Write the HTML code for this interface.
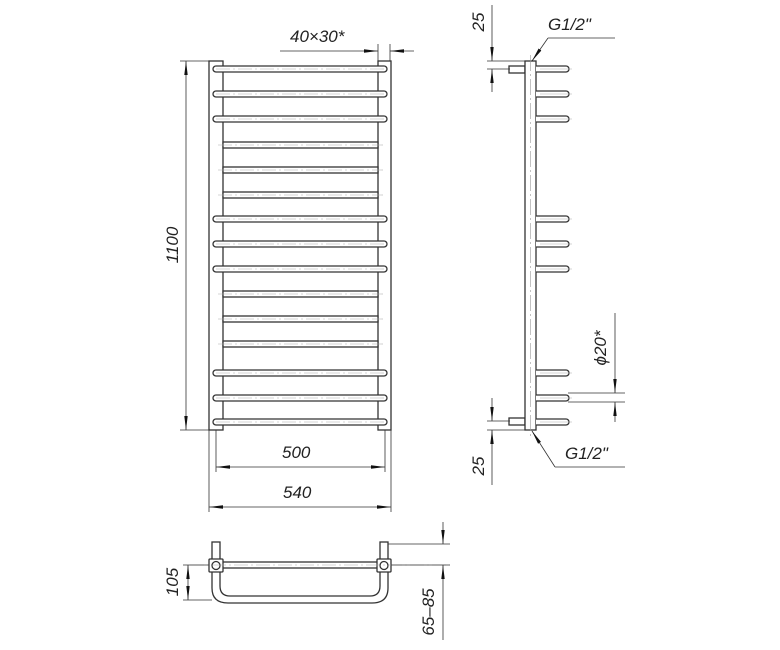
<!DOCTYPE html>
<html><head><meta charset="utf-8"><style>
body{margin:0;background:#fff}
svg{display:block}
text{font-family:"Liberation Sans",sans-serif;font-style:italic;font-size:17px;fill:#222}
</style></head><body>
<svg width="780" height="650" viewBox="0 0 780 650" xmlns="http://www.w3.org/2000/svg">
<defs>
<marker id="a" markerWidth="14" markerHeight="6" refX="14" refY="3" orient="auto" markerUnits="userSpaceOnUse"><path d="M0,1.3 L14,3 L0,4.7z" fill="#111"/></marker>
<g id="lr"><rect x="213" y="-3" width="174" height="6" rx="3" fill="#fff" stroke="#333" stroke-width="1.3"/><line x1="216" y1="0" x2="384" y2="0" stroke="#aaa" stroke-width="0.6" stroke-dasharray="14 3 2 3"/></g>
<g id="sr"><rect x="223" y="-3" width="155" height="6" fill="#fff" stroke="#333" stroke-width="1.3"/><line x1="218" y1="0" x2="383" y2="0" stroke="#aaa" stroke-width="0.6" stroke-dasharray="14 3 2 3"/></g>
<g id="st"><path d="M536,-3 H566 A3,3 0 0 1 566,3 H536" fill="#fff" stroke="#333" stroke-width="1.3"/><line x1="540" y1="0" x2="572" y2="0" stroke="#aaa" stroke-width="0.6"/></g>
</defs>
<g stroke="#333" stroke-width="1.3" fill="#fff">
<!-- front posts -->
<rect x="209" y="61" width="14" height="369"/>
<rect x="378" y="61" width="13" height="369"/>
</g>
<g>
<use href="#lr" y="69"/><use href="#lr" y="94"/><use href="#lr" y="119"/>
<use href="#sr" y="145"/><use href="#sr" y="170"/><use href="#sr" y="195"/>
<use href="#lr" y="219"/><use href="#lr" y="244"/><use href="#lr" y="269"/>
<use href="#sr" y="294"/><use href="#sr" y="319"/><use href="#sr" y="344"/>
<use href="#lr" y="373"/><use href="#lr" y="398"/><use href="#lr" y="422"/>
</g>
<g stroke="#333" stroke-width="0.8" fill="none">
<!-- 1100 -->
<line x1="180" y1="61" x2="209" y2="61"/><line x1="180" y1="430" x2="209" y2="430"/>
<line x1="186" y1="245" x2="186" y2="61" marker-end="url(#a)"/>
<line x1="186" y1="245" x2="186" y2="430" marker-end="url(#a)"/>
<!-- 40x30 -->
<line x1="378" y1="44" x2="378" y2="61"/><line x1="390" y1="44" x2="390" y2="61"/>
<line x1="280" y1="51" x2="378" y2="51" marker-end="url(#a)"/>
<line x1="414" y1="51" x2="390" y2="51" marker-end="url(#a)"/>
<!-- 500/540 -->
<line x1="216" y1="430" x2="216" y2="472"/><line x1="385" y1="430" x2="385" y2="472"/>
<line x1="209" y1="430" x2="209" y2="512"/><line x1="391" y1="430" x2="391" y2="512"/>
<line x1="300" y1="467" x2="216" y2="467" marker-end="url(#a)"/><line x1="300" y1="467" x2="385" y2="467" marker-end="url(#a)"/>
<line x1="300" y1="507" x2="209" y2="507" marker-end="url(#a)"/><line x1="300" y1="507" x2="391" y2="507" marker-end="url(#a)"/>
</g>
<text x="290" y="42">40×30*</text>
<text x="282" y="458">500</text>
<text x="283" y="498">540</text>
<text transform="translate(178,245) rotate(-90)" text-anchor="middle">1100</text>

<!-- side view -->
<g stroke="#333" stroke-width="1.3" fill="#fff">
<rect x="509" y="66" width="16" height="7"/>
<rect x="509" y="418" width="16" height="7"/>
<rect x="525" y="61" width="11" height="369"/>
</g>
<line x1="530.5" y1="55" x2="530.5" y2="436" stroke="#999" stroke-width="0.6" stroke-dasharray="16 3 2 3"/>
<use href="#st" y="69"/><use href="#st" y="94"/><use href="#st" y="119"/>
<use href="#st" y="219"/><use href="#st" y="244"/><use href="#st" y="269"/>
<use href="#st" y="373"/><use href="#st" y="398"/><use href="#st" y="422"/>
<g stroke="#333" stroke-width="0.8" fill="none">
<line x1="487" y1="61" x2="525" y2="61"/><line x1="487" y1="69" x2="510" y2="69"/>
<line x1="492" y1="5" x2="492" y2="61" marker-end="url(#a)"/>
<line x1="492" y1="92" x2="492" y2="69" marker-end="url(#a)"/>
<line x1="487" y1="421" x2="510" y2="421"/><line x1="487" y1="430" x2="525" y2="430"/>
<line x1="492" y1="398" x2="492" y2="421" marker-end="url(#a)"/>
<line x1="492" y1="485" x2="492" y2="430" marker-end="url(#a)"/>
<polyline points="615,38 548,38"/><line x1="548" y1="38" x2="532" y2="61" marker-end="url(#a)"/>
<polyline points="625,467 555,467"/><line x1="555" y1="467" x2="532" y2="431" marker-end="url(#a)"/>
<line x1="568" y1="393" x2="625" y2="393"/><line x1="568" y1="402" x2="625" y2="402"/>
<line x1="615" y1="313" x2="615" y2="393" marker-end="url(#a)"/>
<line x1="615" y1="422" x2="615" y2="402" marker-end="url(#a)"/>
</g>
<text x="548" y="30">G1/2"</text>
<text x="565" y="459">G1/2"</text>
<text transform="translate(484,22) rotate(-90)" text-anchor="middle">25</text>
<text transform="translate(484,466) rotate(-90)" text-anchor="middle">25</text>
<text transform="translate(606,348) rotate(-90)" text-anchor="middle">ϕ20*</text>

<!-- bottom view -->
<g stroke="#333" stroke-width="1.3" fill="#fff">
<rect x="212" y="542" width="8" height="18"/>
<rect x="380" y="542" width="8" height="18"/>
<path d="M212,572 V588 Q212,603 228,603 H372 Q388,603 388,588 V572 M220,572 V586 Q220,596 230,596 H370 Q380,596 380,586 V572"/>
<rect x="220" y="562" width="160" height="6"/>
<rect x="209" y="559" width="14" height="13" rx="1"/>
<rect x="377" y="559" width="14" height="13" rx="1"/>
<circle cx="216" cy="565.5" r="4"/><circle cx="384" cy="565.5" r="4"/>
</g>
<line x1="190" y1="565" x2="450" y2="565" stroke="#aaa" stroke-width="0.6" stroke-dasharray="14 3 2 3"/>
<g stroke="#333" stroke-width="0.8" fill="none">
<line x1="183" y1="565" x2="209" y2="565"/><line x1="183" y1="600" x2="212" y2="600"/>
<line x1="188" y1="582" x2="188" y2="565" marker-end="url(#a)"/><line x1="188" y1="582" x2="188" y2="600" marker-end="url(#a)"/>
<line x1="388" y1="544" x2="450" y2="544"/><line x1="391" y1="565" x2="450" y2="565"/>
<line x1="443" y1="522" x2="443" y2="544" marker-end="url(#a)"/>
<line x1="443" y1="640" x2="443" y2="565" marker-end="url(#a)"/>
</g>
<text transform="translate(178,582) rotate(-90)" text-anchor="middle">105</text>
<text transform="translate(434,612) rotate(-90)" text-anchor="middle">65–85</text>
</svg>
</body></html>
